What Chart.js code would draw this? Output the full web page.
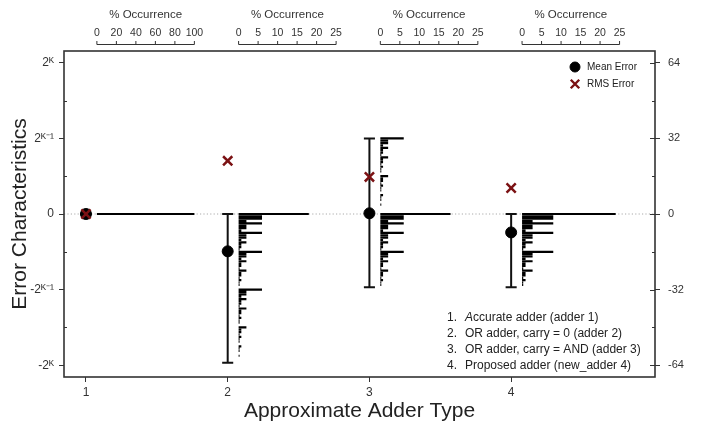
<!DOCTYPE html>
<html>
<head>
<meta charset="utf-8">
<script src="https://cdn.jsdelivr.net/npm/chart.js@4.4.1/dist/chart.umd.min.js"></script>
<style>
  html, body { margin: 0; padding: 0; background: #fff; }
  #wrap { width: 709px; height: 431px; }
</style>
</head>
<body>
<div id="wrap"><canvas id="grafico"></canvas></div>
<script>
// ================= Dados =================
// Tipos de somador (eixo x)
const adderX = [1, 2, 3, 4];
const xTicks = [1, 2, 3, 4];

// Erro médio, erro RMS e faixa do erro por somador (2^K = 64)
const meanErr = [0, -15.8, 0.3, -7.8];
const rmsErr = [0, 22.5, 15.7, 11];
const errMin = [0, -63, -31, -31];
const errMax = [0, 0, 32, 0];

// Eixo y
const yMajor = [64, 32, 0, -32, -64];
const yMinor = [48, 16, -16, -48];
const yLeftLabels = ['2ᴷ', '2ᴷ⁻¹', '0', '-2ᴷ⁻¹', '-2ᴷ'];
const yRightLabels = ['64', '32', '0', '-32', '-64'];

// Eixos "% Occurrence" do topo
const occMax = [100, 25, 25, 25];
const occTicks = [
  [0, 20, 40, 60, 80, 100],
  [0, 5, 10, 15, 20, 25],
  [0, 5, 10, 15, 20, 25],
  [0, 5, 10, 15, 20, 25]
];

// Histogramas: % de ocorrência por valor de erro (do topo para baixo, passo 1)
const hist1Top = 0;
const hist1Pct = [100];

const hist2Top = 0;
const hist2Pct = [
  18, 6, 6, 2, 6, 2, 2, 0.7, 6, 2, 2, 0.7, 2, 0.7, 0.7, 0.25,
  6, 2, 2, 0.7, 2, 0.7, 0.7, 0.25, 2, 0.7, 0.7, 0.25, 0.7, 0.25, 0.25, 0.1,
  6, 2, 2, 0.7, 2, 0.7, 0.7, 0.25, 2, 0.7, 0.7, 0.25, 0.7, 0.25, 0.25, 0.1,
  2, 0.7, 0.7, 0.25, 0.7, 0.25, 0.25, 0.1, 0.7, 0.25, 0.25, 0.1, 0.25, 0.1, 0.1, 0.05
];

const hist3Top = 32;
const hist3Pct = [
  6, 2, 2, 0.7, 2, 0.7, 0.7, 0.25, 2, 0.7, 0.7, 0.25, 0.7, 0.25, 0.25, 0.08,
  2, 0.7, 0.7, 0.25, 0.7, 0.25, 0.25, 0.08, 0.7, 0.25, 0.25, 0.08, 0.25, 0.08, 0.08, 0.03,
  18, 6, 6, 2, 6, 2, 2, 0.7, 6, 2, 2, 0.7, 2, 0.7, 0.7, 0.25,
  6, 2, 2, 0.7, 2, 0.7, 0.7, 0.25, 2, 0.7, 0.7, 0.25, 0.7, 0.25, 0.25, 0.1
];

const hist4Top = 0;
const hist4Pct = [
  24, 8, 8, 2.7, 8, 2.7, 2.7, 0.9, 8, 2.7, 2.7, 0.9, 2.7, 0.9, 0.9, 0.3,
  8, 2.7, 2.7, 0.9, 2.7, 0.9, 0.9, 0.3, 2.7, 0.9, 0.9, 0.3, 0.9, 0.3, 0.3, 0.1
];

const notas = [
  'Accurate adder (adder 1)',
  'OR adder, carry = 0 (adder 2)',
  'OR adder, carry = AND (adder 3)',
  'Proposed adder (new_adder 4)'
];

// ================= Geometria (unidades do eixo x) =================
const xMin = 0.845, xMax = 5.015;
const histOffset = 0.077;  // histograma começa à direita do ponto
const histWidth = 0.688;   // largura da escala cheia de % Occurrence
const capHalf = 0.039;     // meia largura da barra de erro

const FONTE = "'Liberation Sans', Arial, sans-serif";
Chart.defaults.font.family = FONTE;
Chart.defaults.color = '#333';

// Segmentos horizontais do histograma (null quebra a linha)
function segmentosHist(i, topo, pct) {
  const x0 = adderX[i] + histOffset;
  const pts = [];
  pct.forEach((p, k) => {
    pts.push({ x: x0, y: topo - k });
    pts.push({ x: x0 + p * histWidth / occMax[i], y: topo - k });
    pts.push({ x: x0, y: null });
  });
  return pts;
}

// Barras de erro (min..max) com as pontas
function segmentosErro() {
  const pts = [];
  adderX.forEach((a, i) => {
    pts.push({ x: a, y: errMin[i] }, { x: a, y: errMax[i] }, { x: a, y: null });
    [errMin[i], errMax[i]].forEach(v => {
      pts.push({ x: a - capHalf, y: v }, { x: a + capHalf, y: v }, { x: a, y: null });
    });
  });
  return pts;
}

const linhaBase = {
  type: 'scatter', showLine: true, spanGaps: false,
  pointRadius: 0, pointHoverRadius: 0, borderCapStyle: 'butt'
};

const histDatasets = [
  [hist1Top, hist1Pct], [hist2Top, hist2Pct], [hist3Top, hist3Pct], [hist4Top, hist4Pct]
].map(([topo, pct], i) => Object.assign({}, linhaBase, {
  data: segmentosHist(i, topo, pct),
  borderColor: '#000',
  borderWidth: 2.2,
  order: 5
}));

// ================= Plugins =================
const moldura = {
  id: 'moldura',
  afterDraw(chart) {
    const { ctx, chartArea: ca, scales } = chart;
    ctx.save();
    ctx.strokeStyle = '#333';
    // ticks menores (esquerda, para dentro) e parte interna dos ticks da direita
    ctx.lineWidth = 1;
    yMinor.forEach(v => {
      const py = Math.round(scales.y.getPixelForValue(v)) + 0.5;
      ctx.beginPath(); ctx.moveTo(ca.left, py); ctx.lineTo(ca.left + 3, py); ctx.stroke();
      ctx.beginPath(); ctx.moveTo(ca.right - 3, py); ctx.lineTo(ca.right, py); ctx.stroke();
    });
    yMajor.forEach(v => {
      const py = Math.round(scales.y2.getPixelForValue(v)) + 0.5;
      ctx.beginPath(); ctx.moveTo(ca.right - 5, py); ctx.lineTo(ca.right, py); ctx.stroke();
    });
    ctx.lineWidth = 1.6;
    ctx.strokeRect(ca.left, ca.top, ca.right - ca.left, ca.bottom - ca.top);
    ctx.restore();
  }
};

const eixosTopo = {
  id: 'eixosTopo',
  afterDraw(chart) {
    const { ctx } = chart;
    const x = chart.scales.x;
    const yBase = 44.5;
    ctx.save();
    ctx.strokeStyle = '#333';
    ctx.fillStyle = '#333';
    ctx.lineWidth = 1;
    ctx.textAlign = 'center';
    ctx.textBaseline = 'middle';
    adderX.forEach((a, i) => {
      const x0 = x.getPixelForValue(a + histOffset);
      const x1 = x.getPixelForValue(a + histOffset + histWidth);
      ctx.beginPath(); ctx.moveTo(x0, yBase); ctx.lineTo(x1, yBase); ctx.stroke();
      ctx.font = '10.5px ' + FONTE;
      occTicks[i].forEach(v => {
        const px = x.getPixelForValue(a + histOffset + v * histWidth / occMax[i]);
        ctx.beginPath(); ctx.moveTo(px, yBase); ctx.lineTo(px, yBase - 3.5); ctx.stroke();
        ctx.fillText(String(v), px, 33);
      });
      ctx.font = '11.5px ' + FONTE;
      ctx.fillText('% Occurrence', (x0 + x1) / 2, 15);
    });
    ctx.restore();
  }
};

const legendaNotas = {
  id: 'legendaNotas',
  afterDraw(chart) {
    const { ctx, chartArea: ca } = chart;
    ctx.save();
    // legenda dos marcadores
    const lx = ca.right - 80;
    ctx.fillStyle = '#000';
    ctx.strokeStyle = '#000';
    Chart.helpers.drawPoint(ctx, { pointStyle: 'circle', radius: 5, borderWidth: 1 }, lx, ca.top + 16);
    ctx.strokeStyle = '#7b1113';
    ctx.lineWidth = 2.4;
    Chart.helpers.drawPoint(ctx, { pointStyle: 'crossRot', radius: 6, borderWidth: 2.4 }, lx, ca.top + 33);
    ctx.fillStyle = '#222';
    ctx.font = '10px ' + FONTE;
    ctx.textAlign = 'left';
    ctx.textBaseline = 'middle';
    ctx.fillText('Mean Error', lx + 12, ca.top + 16);
    ctx.fillText('RMS Error', lx + 12, ca.top + 33);

    // lista de somadores
    notas.forEach((t, k) => {
      const py = ca.bottom - 59 + k * 16;
      ctx.font = '12px ' + FONTE;
      ctx.fillText((k + 1) + '.', ca.left + 383, py);
      let tx = ca.left + 401;
      if (k === 0) {
        ctx.font = 'italic 12px ' + FONTE;
        ctx.fillText(t[0], tx, py);
        tx += ctx.measureText(t[0]).width;
        t = t.slice(1);
        ctx.font = '12px ' + FONTE;
      }
      ctx.fillText(t, tx, py);
    });
    ctx.restore();
  }
};

// ================= Gráfico =================
const yTicksAll = [...yMajor, ...yMinor].sort((a, b) => a - b);

new Chart(document.getElementById('grafico').getContext('2d'), {
  type: 'scatter',
  data: {
    datasets: [
      {
        type: 'scatter',
        data: adderX.map((a, i) => ({ x: a, y: rmsErr[i] })),
        pointStyle: 'crossRot',
        pointRadius: 6.5,
        borderColor: '#7b1113',
        borderWidth: 2.5,
        order: 1
      },
      {
        type: 'scatter',
        data: adderX.map((a, i) => ({ x: a, y: meanErr[i] })),
        pointStyle: 'circle',
        pointRadius: 5.5,
        backgroundColor: '#000',
        borderColor: '#000',
        order: 2
      },
      Object.assign({}, linhaBase, {
        data: segmentosErro(),
        borderColor: '#111',
        borderWidth: 2,
        order: 3
      }),
      ...histDatasets,
      Object.assign({}, linhaBase, {
        data: [{ x: xMin, y: 0 }, { x: xMax, y: 0 }],
        borderColor: '#aaa',
        borderWidth: 1,
        borderDash: [1.2, 2.2],
        order: 10
      })
    ]
  },
  options: {
    responsive: true,
    maintainAspectRatio: false,
    animation: false,
    events: [],
    layout: { padding: { top: 51, left: 0, right: 0, bottom: 0 } },
    plugins: {
      legend: { display: false },
      tooltip: { enabled: false }
    },
    scales: {
      x: {
        type: 'linear',
        min: xMin,
        max: xMax,
        afterBuildTicks: s => { s.ticks = xTicks.map(v => ({ value: v })); },
        afterFit: s => { s.height = 54; },
        ticks: { font: { size: 12 }, color: '#333', padding: 3, autoSkip: false, callback: v => String(v) },
        grid: { drawOnChartArea: false, tickLength: 5, tickColor: '#333' },
        border: { display: false },
        title: {
          display: true, text: 'Approximate Adder Type',
          font: { size: 21 }, color: '#222', padding: { top: 0, bottom: 7.5 }
        }
      },
      y: {
        type: 'linear',
        position: 'left',
        min: -69,
        max: 69,
        afterBuildTicks: s => { s.ticks = yTicksAll.map(v => ({ value: v })); },
        afterFit: s => { s.width = 64; },
        ticks: {
          font: { size: 12 }, color: '#333', padding: 5, autoSkip: false,
          callback: v => { const k = yMajor.indexOf(v); return k < 0 ? '' : yLeftLabels[k]; }
        },
        grid: {
          drawOnChartArea: false, tickLength: 5,
          tickColor: c => yMajor.includes(c.tick.value) ? '#333' : 'rgba(0,0,0,0)'
        },
        border: { display: false },
        title: {
          display: true, text: 'Error Characteristics',
          font: { size: 21 }, color: '#222', padding: { top: 8, bottom: 0 }
        }
      },
      y2: {
        type: 'linear',
        position: 'right',
        min: -69,
        max: 69,
        afterBuildTicks: s => { s.ticks = yTicksAll.map(v => ({ value: v })); },
        afterFit: s => { s.width = 54; },
        ticks: {
          font: { size: 11 }, color: '#333', padding: 8, autoSkip: false,
          callback: v => { const k = yMajor.indexOf(v); return k < 0 ? '' : yRightLabels[k]; }
        },
        grid: {
          drawOnChartArea: false, tickLength: 5,
          tickColor: c => yMajor.includes(c.tick.value) ? '#333' : 'rgba(0,0,0,0)'
        },
        border: { display: false }
      }
    }
  },
  plugins: [moldura, eixosTopo, legendaNotas]
});
</script>
</body>
</html>
